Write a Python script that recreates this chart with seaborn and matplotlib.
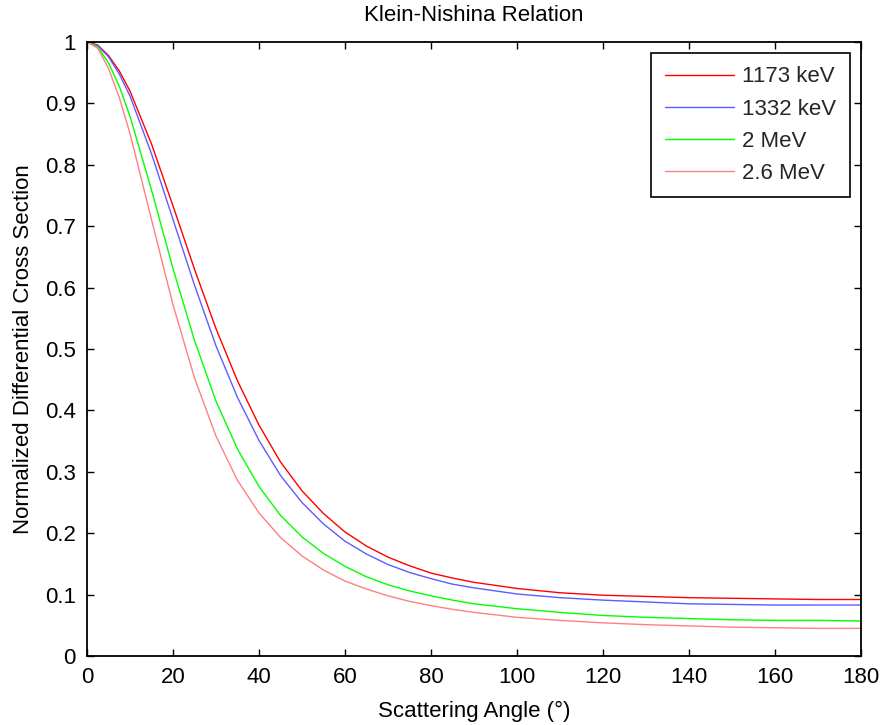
import matplotlib
matplotlib.use("Agg")
import matplotlib.pyplot as plt
import seaborn as sns
import pandas as pd

# Scattering angle (degrees)
angles = [0, 2.5, 5, 7.5, 10, 15, 20, 25, 30, 35, 40, 45, 50, 55, 60, 65, 70, 75, 80, 85, 90,
          100, 110, 120, 130, 140, 150, 160, 170, 180]

# Normalized differential cross section
kev_1173 = [1.000, 0.995, 0.978, 0.953, 0.920, 0.834, 0.733, 0.630, 0.533, 0.448, 0.376, 0.316,
            0.269, 0.232, 0.202, 0.179, 0.161, 0.147, 0.135, 0.127, 0.120,
            0.110, 0.103, 0.099, 0.097, 0.095, 0.094, 0.093, 0.092, 0.092]
kev_1332 = [1.000, 0.994, 0.976, 0.948, 0.912, 0.818, 0.711, 0.604, 0.505, 0.421, 0.351, 0.294,
            0.250, 0.215, 0.187, 0.166, 0.149, 0.136, 0.126, 0.117, 0.111,
            0.101, 0.095, 0.091, 0.088, 0.085, 0.084, 0.083, 0.083, 0.083]
mev_2 = [1.000, 0.992, 0.966, 0.928, 0.879, 0.759, 0.631, 0.514, 0.415, 0.337, 0.276, 0.229,
         0.194, 0.167, 0.146, 0.129, 0.116, 0.106, 0.098, 0.091, 0.085,
         0.077, 0.071, 0.066, 0.063, 0.061, 0.059, 0.058, 0.058, 0.057]
mev_2_6 = [1.000, 0.990, 0.957, 0.910, 0.851, 0.711, 0.572, 0.453, 0.358, 0.286, 0.233, 0.193,
           0.163, 0.140, 0.122, 0.109, 0.098, 0.089, 0.082, 0.076, 0.071,
           0.063, 0.058, 0.054, 0.051, 0.049, 0.047, 0.046, 0.045, 0.045]

series_labels = ["1173 keV", "1332 keV", "2 MeV", "2.6 MeV"]
series_values = [kev_1173, kev_1332, mev_2, mev_2_6]
series_colors = ["#ff0000", "#5c5cff", "#00ff00", "#ff8080"]

x_ticks = [0, 20, 40, 60, 80, 100, 120, 140, 160, 180]
y_ticks = [0, 0.1, 0.2, 0.3, 0.4, 0.5, 0.6, 0.7, 0.8, 0.9, 1]
y_tick_labels = ["0", "0.1", "0.2", "0.3", "0.4", "0.5", "0.6", "0.7", "0.8", "0.9", "1"]

rows = []
for lab, vals in zip(series_labels, series_values):
    for a, v in zip(angles, vals):
        rows.append({"angle": a, "value": v, "series": lab})
df = pd.DataFrame(rows)

sns.set_theme(style="white")
plt.rcParams["font.family"] = ["Liberation Sans", "DejaVu Sans"]

FS = 16

fig = plt.figure(figsize=(8.85, 7.25), dpi=100)
ax = fig.add_axes([87 / 885, 1 - 656 / 725, (861 - 87) / 885, (656 - 42) / 725])

sns.lineplot(data=df, x="angle", y="value", hue="series", hue_order=series_labels,
             palette=dict(zip(series_labels, series_colors)), linewidth=1.0,
             ax=ax, estimator=None, sort=True)

ax.set_xlim(0, 180)
ax.set_ylim(0, 1)
ax.set_xticks(x_ticks)
ax.set_xticklabels([str(t) for t in x_ticks])
ax.set_yticks(y_ticks)
ax.set_yticklabels(y_tick_labels)
ax.tick_params(direction="in", length=5, width=1, top=True, right=True,
               bottom=True, left=True, labelsize=FS, colors="black", pad=8)
for sp in ax.spines.values():
    sp.set_visible(True)
    sp.set_color("black")
    sp.set_linewidth(1.3)

ax.set_xlabel("Scattering Angle (°)", fontsize=FS, color="black", labelpad=9)
ax.set_ylabel("Normalized Differential Cross Section", fontsize=FS, color="black", labelpad=8)
ax.set_title("Klein-Nishina Relation", fontsize=FS, color="black", pad=15)

leg = ax.legend(loc="upper right", fontsize=FS, frameon=True, fancybox=False,
                framealpha=1, edgecolor="black", handlelength=3.1, handletextpad=0.4,
                labelspacing=0.5, borderaxespad=0.5, borderpad=0.6)
leg.get_frame().set_linewidth(1.2)

fig.savefig("out.png", dpi=100, facecolor="white")
